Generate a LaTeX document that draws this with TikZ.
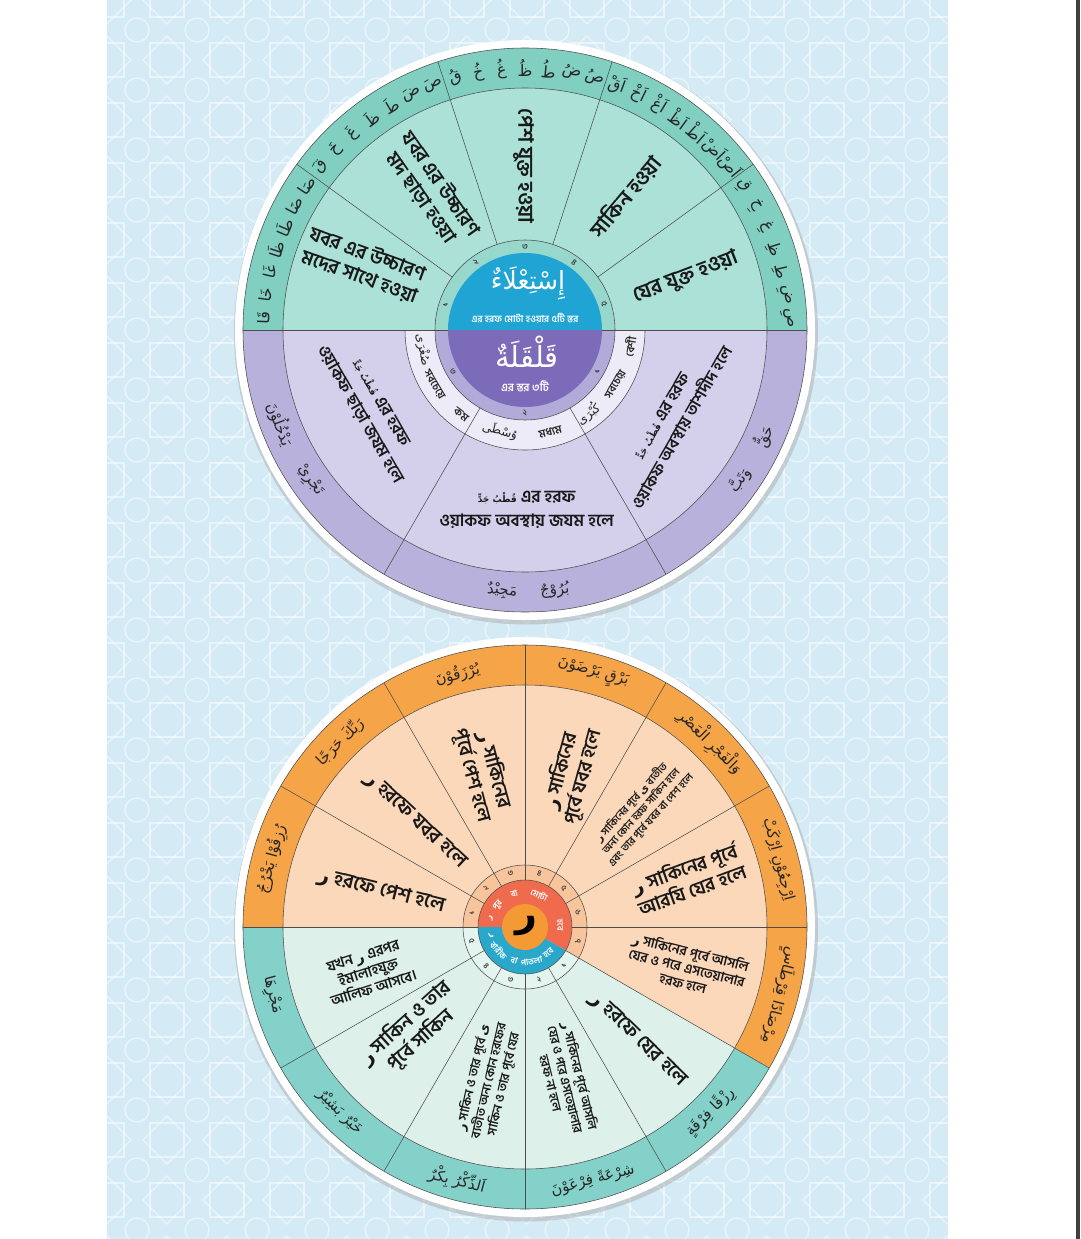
\documentclass[tikz,border=0pt]{standalone}
\usepackage{fontspec}
\newfontfamily\bn[Script=Bengali]{Hind Siliguri}
\newfontfamily\ar[Script=Arabic]{DejaVu Sans}
\TeXXeTstate=1
\newcommand\AR[1]{{\ar\beginR#1\endR}}
\newcommand\bnf[2]{\bn\bfseries\fontsize{#1}{#2}\selectfont}
\newcommand\arf[1]{\ar\fontsize{#1}{#1}\selectfont}
\newcommand\qj{{\ar\fontsize{9}{9}\selectfont\beginR قُطْبُ جَدٍّ\endR}}
\newcommand\sectorfill[4]{\fill[#1] (0,0) -- (#2:#4) arc[start angle=#2,end angle=#3,radius=#4] -- cycle;}
\definecolor{bgblue}{HTML}{D4EBF6}
\definecolor{tband}{HTML}{80CFC1}
\definecolor{tmid}{HTML}{ABE1D7}
\definecolor{tnum}{HTML}{97D7CC}
\definecolor{tdisk}{HTML}{1FA4D4}
\definecolor{pband}{HTML}{B8B1DC}
\definecolor{pmid}{HTML}{D4D0EB}
\definecolor{plab}{HTML}{EDEBF7}
\definecolor{pnum}{HTML}{B2ABDA}
\definecolor{pdisk}{HTML}{7C6BB8}
\definecolor{oband}{HTML}{F5A448}
\definecolor{omid}{HTML}{FCD8BA}
\definecolor{onum}{HTML}{F8C49C}
\definecolor{oring}{HTML}{F06B4D}
\definecolor{odisk}{HTML}{F39A35}
\definecolor{mband}{HTML}{84D1C9}
\definecolor{mmid}{HTML}{DDF1EA}
\definecolor{mnum}{HTML}{E4F4EE}
\definecolor{mring}{HTML}{2AA8CC}
\definecolor{lncol}{HTML}{4D4D4D}
\tikzset{
  ln/.style={draw=lncol, line width=0.55pt},
  bgline/.style={draw=white, opacity=.5, line width=1.3pt},
  bt/.style={inner sep=0pt, align=center, text=black!90},
  bandL/.style={inner sep=0pt, text=black!85, font=\arf{16}},
  bandW/.style={inner sep=0pt, text=black!85, font=\arf{15}},
  numN/.style={inner sep=0pt, text=black!75, font=\bnf{8.5}{9}},
  ringW/.style={inner sep=0pt, text=white, font=\bnf{8.5}{9}},
  labB/.style={inner sep=0pt, text=black!85, font=\bnf{11}{11}},
  labA/.style={inner sep=0pt, text=black!85, font=\arf{12}},
}
\newcommand\bandletters[3]{%
  \foreach \l [count=\i] in {#2} {%
    \node[bandL, rotate={#1-(\i-0.5)*36/7-90}] (tl#3\i) at ({#1-(\i-0.5)*36/7}:262) {\AR{\l}};}}
\begin{document}
\begin{tikzpicture}[x=1pt,y=1pt]
\useasboundingbox (0,0) rectangle (1080,-1239);
\fill[white] (0,0) rectangle (1080,-1239);
% background pattern
\begin{scope}
  \clip (107,0) rectangle (948,-1239);
  \fill[bgblue] (107,0) rectangle (948,-1239);
  \foreach \i in {0,...,14} {\foreach \j in {0,...,21} {
    \begin{scope}[shift={(107+60*\i,-60*\j)}]
      \draw[bgline] (-17,-17) rectangle (17,17);
      \draw[bgline, rotate=45] (-17,-17) rectangle (17,17);
      \draw[bgline] (30,-30) circle[radius=12];
    \end{scope}}}
\end{scope}
\fill[black!75] (1076,0) rectangle (1080,-1239);

% ================= TOP CIRCLE =================
\begin{scope}[shift={(525,-330)}]
  \fill[black!35, opacity=.45] (1,-2.5) circle[radius=292];
  \fill[white] (0,0) circle[radius=290];
  \sectorfill{tband}{0}{180}{282}
  \sectorfill{pband}{180}{360}{282}
  \sectorfill{tmid}{0}{180}{242}
  \sectorfill{pmid}{180}{360}{242}
  \sectorfill{plab}{180}{360}{120}
  \sectorfill{tnum}{0}{180}{90}
  \sectorfill{pnum}{180}{360}{90}
  \sectorfill{tdisk}{0}{180}{77}
  \sectorfill{pdisk}{180}{360}{77}
  \draw[ln] (0,0) circle[radius=282];
  \draw[ln] (0,0) circle[radius=242];
  \draw[ln] (180:120) arc[start angle=180,end angle=360,radius=120];
  \draw[ln] (0,0) circle[radius=90];
  \draw[ln] (0:77) -- (0:282);
  \draw[ln] (180:77) -- (180:282);
  \foreach \a in {36,72,108,144,240,300} \draw[ln] (\a:90) -- (\a:282);
  % band letters
  \bandletters{180}{قَا,خَا,غَا,ظَا,طَا,ضَا,صَا}{a}
  \bandletters{144}{قَ,خَ,غَ,ظَ,طَ,ضَ,صَ}{b}
  \bandletters{108}{قُ,خُ,غُ,ظُ,طُ,ضُ,صُ}{c}
  \bandletters{72}{اَقْ,اَخْ,اَغْ,اَظْ,اَطْ,اَضْ,اَصْ}{d}
  \bandletters{36}{قِ,خِ,غِ,ظِ,طِ,ضِ,صِ}{e}
  % teal sectors
  \node[bt, font=\bnf{19.5}{24}, rotate=-20] (ts1) at (158:174) {যবর এর উচ্চারণ\\মদের সাথে হওয়া};
  \node[bt, font=\bnf{19.5}{24}, rotate=-55] (ts2) at (124:168) {যবর এর উচ্চারণ\\মদ ছাড়া হওয়া};
  \node[bt, font=\bnf{21}{24}, rotate=-90] (ts3) at (90.5:164) {পেশ যুক্ত হওয়া};
  \node[bt, font=\bnf{21}{24}, rotate=50] (ts4) at (53:167) {সাকিন হওয়া};
  \node[bt, font=\bnf{21}{24}, rotate=21] (ts5) at (18:169) {যের যুক্ত হওয়া};
  % purple sectors
  \node[bt, font=\bnf{16.5}{24}, rotate=60] (ps1) at (-32:174) {\qj{} এর হরফ\\ওয়াকফ অবস্থায় তাশদীদ হলে};
  \node[bt, font=\bnf{17}{24}, rotate=-60] (ps2) at (207:174) {\qj{} এর হরফ\\ওয়াকফ ছাড়া জযম হলে};
  \node[bt, font=\bnf{17}{24}] (ps3) at (270.5:180) {\qj{} এর হরফ\\ওয়াকফ অবস্থায় জযম হলে};
  % label ring
  \node[labA, rotate=397] (lr1) at (307:105) {\AR{كُبْرَى}};
  \node[labB, rotate=420] (lr2) at (329:106) {সবচেয়ে};
  \node[labB, rotate=441] (lr3) at (351:106) {বেশী};
  \node[labA, rotate=346] (lr4) at (256:104) {\AR{وُسْطَى}};
  \node[labB, rotate=374] (lr5) at (284:105) {মধ্যম};
  \node[labA, rotate=281] (lr6) at (191:104) {\AR{صُغْرَى}};
  \node[labB, rotate=301] (lr7) at (211:106) {সবচেয়ে};
  \node[labB, rotate=323] (lr8) at (233:106) {কম};
  % purple band
  \node[bandW, rotate=415] (pb1) at (325:262) {\AR{وَتَبَّ}};
  \node[bandW, rotate=426] (pb2) at (336:262) {\AR{حَقٌّ}};
  \node[bandW, rotate=291] (pb3) at (201:262) {\AR{يَدْخُلُوْنَ}};
  \node[bandW, rotate=305] (pb4) at (215:262) {\AR{تَجْرِيْ}};
  \node[bandW, rotate=355] (pb5) at (265:262) {\AR{مَجِيْدٌ}};
  \node[bandW, rotate=366.5] (pb6) at (276.5:262) {\AR{بُرُوْجٌ}};
  % numbers
  \foreach \n/\a [count=\k] in {১/162,২/126,৩/90,৪/54,৫/18}
    \node[numN, rotate=\a-90] (tn\k) at (\a:83.5) {\n};
  \foreach \n/\a [count=\k] in {১/330,২/270,৩/210}
    \node[numN, rotate=\a+90] (pn\k) at (\a:83.5) {\n};
  % center
  \node[inner sep=0pt, text=white, font=\arf{25}] (istila) at (3,47) {\AR{إِسْتِعْلَاءٌ}};
  \node[inner sep=0pt, text=white, font=\bnf{9.5}{10}] (istsub) at (0,12) {এর হরফ মোটা হওয়ার ৫টি স্তর};
  \node[inner sep=0pt, text=white, font=\arf{29}] (qal) at (2,-22) {\AR{قَلْقَلَةٌ}};
  \node[inner sep=0pt, text=white, font=\bnf{11}{11}] (qalsub) at (0,-56) {এর স্তর ৩টি};
\end{scope}

% ================= BOTTOM CIRCLE =================
\begin{scope}[shift={(525,-927)}]
  \fill[black!35, opacity=.45] (1,-2.5) circle[radius=292];
  \fill[white] (0,0) circle[radius=290];
  \sectorfill{oband}{-30}{180}{282}
  \sectorfill{mband}{180}{330}{282}
  \sectorfill{omid}{-30}{180}{242}
  \sectorfill{mmid}{180}{330}{242}
  \sectorfill{onum}{-30}{180}{62}
  \sectorfill{mnum}{180}{330}{62}
  \sectorfill{oring}{-30}{180}{47}
  \sectorfill{mring}{180}{330}{47}
  \fill[odisk] (0,0) circle[radius=23];
  \draw[ln] (0,0) circle[radius=282];
  \draw[ln] (0,0) circle[radius=242];
  \draw[ln] (0,0) circle[radius=62];
  \draw[ln] (0,0) circle[radius=47];
  \foreach \a in {0,30,...,330} \draw[ln] (\a:47) -- (\a:282);
  % orange sectors
  \node[bt, font=\bnf{20}{24}, rotate=-14] (o1) at (166:148) {\AR{ر} হরফে পেশ হলে};
  \node[bt, font=\bnf{20}{24}, rotate=-43] (o2) at (136:153) {\AR{ر} হরফে যবর হলে};
  \node[bt, font=\bnf{19}{23}, rotate=-75] (o3) at (105:160) {\AR{ر} সাকিনের\\পূর্বে পেশ হলে};
  \node[bt, font=\bnf{19}{23}, rotate=75] (o4) at (73:160) {\AR{ر} সাকিনের\\পূর্বে যবর হলে};
  \node[bt, font=\bnf{10.5}{13}, rotate=48] (o5) at (45:164) {\AR{ر} সাকিনের পূর্বে \AR{ی} ব্যতীত\\অন্য কোন হরফ সাকিন হলে\\এবং তার পূর্বে যবর বা পেশ হলে};
  \node[bt, font=\bnf{19}{23}, rotate=20] (o6) at (16.5:170) {\AR{ر} সাকিনের পূর্বে\\আরযি যের হলে};
  \node[bt, font=\bnf{13.5}{16}, rotate=-14] (o7) at (-14:167) {\AR{ر} সাকিনের পূর্বে আসলি\\যের ও পরে এসতেয়ালার\\হরফ হলে};
  % mint sectors
  \node[bt, font=\bnf{14.5}{17}, rotate=18] (m1) at (196:163) {যখন \AR{ر} এরপর\\ইমালাহযুক্ত\\আলিফ আসবে।};
  \node[bt, font=\bnf{19.5}{23}, rotate=42] (m2) at (223:153) {\AR{ر} সাকিন ও তার\\পূর্বে সাকিন};
  \node[bt, font=\bnf{12.5}{15}, rotate=77] (m3) at (256.5:158) {\AR{ر} সাকিন ও তার পূর্বে \AR{ی}\\ব্যতীত অন্য কোন হরফের\\সাকিন ও তার পূর্বে যের};
  \node[bt, font=\bnf{12.5}{15}, rotate=-76] (m4) at (-75:158) {\AR{ر} সাকিনের পূর্বে আসলি\\যের ও পরে এসতেয়ালার\\হরফ না হলে};
  \node[bt, font=\bnf{20}{24}, rotate=-44] (m5) at (-45:160) {\AR{ر} হরফে যের হলে};
  % orange band
  \node[bandW, rotate=75] (ob1) at (165:262) {\AR{رُزِقُوْا يَخْرُجُ}};
  \node[bandW, rotate=45] (ob2) at (135:262) {\AR{رَبِّكَ حَرَجًا}};
  \node[bandW, rotate=15] (ob3) at (105:262) {\AR{يُرْزَقُوْنَ}};
  \node[bandW, rotate=-15] (ob4) at (75:262) {\AR{بَرْقٍ يَرْضَوْنَ}};
  \node[bandW, rotate=-45] (ob5) at (45:262) {\AR{وَالْفَجْرِ الْعَصْرِ}};
  \node[bandW, rotate=-75] (ob6) at (15:262) {\AR{اِرْجِعُوْنِ اِرْكَبْ}};
  \node[bandW, rotate=-105] (ob7) at (-15:262) {\AR{مِرْصَادًا قِرْطَاسٍ}};
  % mint band
  \node[bandW, rotate=285] (mb1) at (195:262) {\AR{مَجْرِهَا}};
  \node[bandW, rotate=315] (mb2) at (225:262) {\AR{خَيْرٌ بَشِيْرٌ}};
  \node[bandW, rotate=345] (mb3) at (255:262) {\AR{اَلذِّكْرُ بِكْرٌ}};
  \node[bandW, rotate=375] (mb4) at (285:262) {\AR{شِرْعَةً فِرْعَوْنَ}};
  \node[bandW, rotate=405] (mb5) at (315:262) {\AR{رِزْقًا فِرْقَةٍ}};
  % numbers
  \foreach \n/\a [count=\k] in {১/165,২/135,৩/105,৪/75,৫/45,৬/15,৭/-15}
    \node[numN, font=\bnf{8}{8}, rotate=\a-90] (on\k) at (\a:55) {\n};
  \foreach \n/\a [count=\k] in {১/315,২/285,৩/255,৪/225,৫/195}
    \node[numN, font=\bnf{8}{8}, rotate=\a+90] (mn\k) at (\a:55) {\n};
  % ring words
  \node[ringW, rotate=76] (rw1) at (166:35) {\AR{ر}};
  \node[ringW, rotate=51] (rw2) at (141:35) {পুর};
  \node[ringW, rotate=18] (rw3) at (108:35) {বা};
  \node[ringW, rotate=-24] (rw4) at (66:35) {মোটা};
  \node[ringW, rotate=-87] (rw5) at (3:35) {হবে};
  \node[ringW, rotate=285] (rw6) at (195:35) {\AR{ر}};
  \node[ringW, rotate=312] (rw7) at (222:35) {বারীক};
  \node[ringW, rotate=342] (rw8) at (252:35) {বা};
  \node[ringW, rotate=371] (rw9) at (281:35) {পাতলা};
  \node[ringW, rotate=402] (rw10) at (312:35) {হবে};
  % center
  \node[inner sep=0pt, text=black, font=\ar\bfseries\fontsize{38}{38}\selectfont] (ra) at (1,1) {ر};
\end{scope}
\end{tikzpicture}
\end{document}
